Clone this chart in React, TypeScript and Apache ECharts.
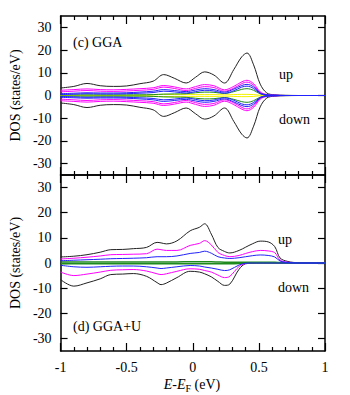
import React, { useEffect, useRef } from "react";
import * as echarts from "echarts";

// ---------- (c) GGA panel ----------
const xGGA = [-1, -0.9, -0.8, -0.7, -0.6, -0.5, -0.4, -0.3, -0.22, -0.14, -0.05, 0.02, 0.09, 0.16, 0.24, 0.31, 0.37, 0.41, 0.46, 0.51, 0.56, 0.62, 0.7, 0.8, 0.9, 1];
const ggaTotalUp = [3.3, 4.0, 5.3, 4.3, 4.0, 4.2, 5.2, 6.3, 9.2, 7.6, 5.5, 8.0, 10.4, 9.0, 5.5, 11.4, 17.0, 18.7, 13.5, 5.0, 1.1, 0.3, 0.1, 0, 0, 0];
const ggaTotalDn = [-3.3, -4.0, -5.3, -4.3, -4.0, -4.2, -5.2, -6.3, -9.2, -7.6, -5.5, -8.0, -10.4, -9.0, -5.5, -11.4, -17.0, -18.7, -13.5, -5.0, -1.1, -0.3, -0.1, 0, 0, 0];
const ggaMagAUp = [2.3, 2.6, 2.9, 2.6, 2.5, 2.7, 3.0, 3.4, 4.4, 3.8, 2.9, 3.9, 4.8, 4.3, 2.5, 4.0, 6.0, 6.7, 5.2, 1.6, 0.4, 0.1, 0, 0, 0, 0];
const ggaMagADn = [-2.3, -2.6, -2.9, -2.6, -2.5, -2.7, -3.0, -3.4, -4.4, -3.8, -2.9, -3.9, -4.8, -4.3, -2.5, -4.0, -6.0, -6.7, -5.2, -1.6, -0.4, -0.1, 0, 0, 0, 0];
const ggaMagBUp = [1.6, 1.9, 2.2, 1.9, 1.8, 2.0, 2.3, 2.7, 3.7, 3.1, 2.2, 3.1, 3.9, 3.5, 1.9, 3.2, 5.2, 5.9, 4.5, 1.3, 0.3, 0.1, 0, 0, 0, 0];
const ggaMagBDn = [-1.6, -1.9, -2.2, -1.9, -1.8, -2.0, -2.3, -2.7, -3.7, -3.1, -2.2, -3.1, -3.9, -3.5, -1.9, -3.2, -5.2, -5.9, -4.5, -1.3, -0.3, -0.1, 0, 0, 0, 0];
const ggaBlueAUp = [0.8, 1.0, 1.2, 1.1, 1.1, 1.2, 1.5, 1.9, 2.6, 2.2, 1.7, 2.4, 3.0, 2.6, 1.5, 2.8, 4.4, 4.9, 3.8, 1.1, 0.3, 0.1, 0, 0, 0, 0];
const ggaBlueADn = [-0.8, -1.0, -1.2, -1.1, -1.1, -1.2, -1.5, -1.9, -2.6, -2.2, -1.7, -2.4, -3.0, -2.6, -1.5, -2.8, -4.4, -4.9, -3.8, -1.1, -0.3, -0.1, 0, 0, 0, 0];
const ggaBlueBUp = [0.4, 0.6, 0.8, 0.7, 0.7, 0.8, 1.0, 1.3, 1.9, 1.6, 1.1, 1.7, 2.3, 2.0, 1.0, 2.1, 3.7, 4.1, 3.1, 0.9, 0.2, 0.1, 0, 0, 0, 0];
const ggaBlueBDn = [-0.4, -0.6, -0.8, -0.7, -0.7, -0.8, -1.0, -1.3, -1.9, -1.6, -1.1, -1.7, -2.3, -2.0, -1.0, -2.1, -3.7, -4.1, -3.1, -0.9, -0.2, -0.1, 0, 0, 0, 0];
const ggaGreenUp = [0.3, 0.3, 0.3, 0.3, 0.3, 0.3, 0.3, 0.4, 0.6, 0.7, 0.8, 1.2, 1.5, 1.4, 0.9, 1.7, 2.7, 3.0, 2.3, 0.7, 0.2, 0, 0, 0, 0, 0];
const ggaGreenDn = [-0.3, -0.3, -0.3, -0.3, -0.3, -0.3, -0.3, -0.4, -0.6, -0.7, -0.8, -1.2, -1.5, -1.4, -0.9, -1.7, -2.7, -3.0, -2.3, -0.7, -0.2, 0, 0, 0, 0, 0];
const ggaYellowUp = [0, 0, 0, 0, 0, 0, 0.1, 0.3, 0.5, 0.4, 0.4, 0.4, 0.4, 0.4, 0.3, 0.4, 0.5, 0.5, 0.4, 0.1, 0, 0, 0, 0, 0, 0];
const ggaYellowDn = [0, 0, 0, 0, 0, 0, -0.1, -0.3, -0.5, -0.4, -0.4, -0.4, -0.4, -0.4, -0.3, -0.4, -0.5, -0.5, -0.4, -0.1, 0, 0, 0, 0, 0, 0];

// ---------- (d) GGA+U panel ----------
const xU = [-1, -0.9, -0.8, -0.7, -0.62, -0.53, -0.45, -0.35, -0.27, -0.24, -0.2, -0.12, -0.02, 0.05, 0.09, 0.14, 0.19, 0.24, 0.28, 0.35, 0.4, 0.45, 0.51, 0.57, 0.62, 0.66, 0.72, 0.8, 0.9, 1];
const uTotalUp = [2.4, 2.7, 3.3, 4.3, 5.3, 5.4, 5.7, 6.2, 8.2, 8.0, 7.6, 8.8, 12.8, 14.2, 15.6, 11.5, 6.2, 4.6, 4.0, 5.0, 6.3, 7.6, 8.7, 8.4, 6.5, 2.0, 0.6, 0.1, 0, 0];
const uTotalDn = [-6.6, -9.2, -7.9, -6.3, -4.6, -4.4, -4.2, -5.3, -7.8, -8.6, -8.0, -5.8, -3.3, -3.6, -4.3, -5.5, -7.3, -8.9, -8.4, -2.5, -0.3, -0.1, 0, 0, 0, 0, 0, 0, 0, 0];
const uMagUp = [1.6, 1.9, 2.3, 2.8, 3.3, 3.4, 3.5, 3.7, 5.5, 5.3, 5.0, 5.0, 7.0, 7.8, 8.9, 7.2, 4.2, 3.0, 2.5, 3.0, 3.8, 4.5, 5.0, 4.8, 4.1, 1.2, 0.3, 0.1, 0, 0];
const uMagDn = [-3.6, -5.0, -4.4, -3.6, -2.9, -2.7, -2.6, -3.2, -4.3, -4.6, -4.3, -3.3, -2.3, -2.5, -3.0, -3.6, -4.8, -5.8, -5.3, -1.4, -0.2, 0, 0, 0, 0, 0, 0, 0, 0, 0];
const uBlueUp = [0.9, 1.1, 1.3, 1.5, 1.7, 1.8, 1.9, 2.1, 2.5, 2.5, 2.5, 2.8, 3.8, 4.2, 4.7, 3.9, 2.5, 2.0, 1.8, 2.1, 2.5, 2.9, 3.2, 3.0, 2.4, 0.8, 0.2, 0, 0, 0];
const uBlueDn = [-0.9, -1.5, -1.7, -1.5, -1.3, -1.2, -1.2, -1.5, -2.0, -2.2, -2.0, -1.5, -1.0, -1.2, -1.6, -2.0, -2.5, -3.0, -2.7, -0.8, -0.1, 0, 0, 0, 0, 0, 0, 0, 0, 0];
const uGreenUp = [0.4, 0.4, 0.4, 0.4, 0.4, 0.4, 0.4, 0.4, 0.4, 0.4, 0.4, 0.4, 0.5, 0.5, 0.5, 0.5, 0.4, 0.3, 0.3, 0.3, 0.3, 0.3, 0.3, 0.3, 0.3, 0.2, 0.1, 0, 0, 0];
const uGreenDn = [-0.3, -0.3, -0.3, -0.3, -0.3, -0.3, -0.3, -0.3, -0.3, -0.3, -0.3, -0.3, -0.3, -0.3, -0.3, -0.3, -0.3, -0.3, -0.3, -0.2, 0, 0, 0, 0, 0, 0, 0, 0, 0, 0];

const yTickValues = [-30, -20, -10, 0, 10, 20, 30];

const SERIF = "'Liberation Serif', 'Times New Roman', serif";
const BLACK = "#222222";
const MAGENTA = "#ff00ff";
const BLUE = "#2222ff";
const GREEN = "#1e8a1e";
const YELLOW = "#f2f200";

function pairs(xs: number[], ys: number[]) {
  return xs.map((x, i) => [x, ys[i]]);
}

function line(xs: number[], ys: number[], color: string, xi: number, yi: number, width = 1) {
  return {
    type: "line",
    xAxisIndex: xi,
    yAxisIndex: yi,
    data: pairs(xs, ys),
    showSymbol: false,
    smooth: 0.35,
    lineStyle: { color, width },
    silent: true,
  };
}

function xAxis(gridIndex: number, position: string, showLabel: boolean) {
  return {
    type: "value",
    gridIndex,
    position,
    min: -1,
    max: 1,
    interval: 0.5,
    axisLine: { show: true, onZero: false, lineStyle: { color: "#000", width: 1.5 } },
    axisTick: { show: true, inside: true, length: 8, lineStyle: { color: "#000", width: 1.2 } },
    minorTick: { show: true, splitNumber: 5, length: 4, lineStyle: { color: "#000", width: 1.2 } },
    axisLabel: { show: showLabel, color: "#000", fontSize: 14, fontFamily: SERIF, margin: 9 },
    splitLine: { show: false },
    minorSplitLine: { show: false },
  };
}

function yAxis(gridIndex: number, position: string, showLabel: boolean, name?: string) {
  return {
    type: "value",
    gridIndex,
    position,
    min: -35,
    max: 35,
    name: name || "",
    nameLocation: "middle",
    nameGap: 38,
    nameTextStyle: { color: "#000", fontSize: 14, fontFamily: SERIF },
    axisLine: { show: true, onZero: false, lineStyle: { color: "#000", width: 1.5 } },
    axisTick: { show: true, inside: true, length: 7, customValues: yTickValues, lineStyle: { color: "#000", width: 1.2 } },
    axisLabel: { show: showLabel, customValues: yTickValues, color: "#000", fontSize: 14, fontFamily: SERIF, margin: 9 },
    splitLine: { show: false },
  };
}

function txt(text: string, x: number, y: number) {
  return {
    type: "text",
    x,
    y,
    silent: true,
    style: { text, fill: "#000", fontSize: 14, fontFamily: SERIF, verticalAlign: "middle", align: "left" },
  };
}

export default function App() {
  const ref = useRef<HTMLDivElement>(null);
  useEffect(() => {
    if (!ref.current) return;
    const chart = echarts.init(ref.current, undefined, { renderer: "svg" });
    chart.setOption({
      animation: false,
      backgroundColor: "#ffffff",
      grid: [
        { left: 60, right: 25, top: 16, height: 159 },
        { left: 60, right: 25, top: 175, height: 176 },
      ],
      xAxis: [
        xAxis(0, "bottom", false),
        xAxis(0, "top", false),
        xAxis(1, "top", false),
        xAxis(1, "bottom", true),
      ],
      yAxis: [
        yAxis(0, "left", true, "DOS (states/eV)"),
        yAxis(0, "right", false),
        yAxis(1, "left", true, "DOS (states/eV)"),
        yAxis(1, "right", false),
      ],
      series: [
        line(xGGA, ggaTotalUp, BLACK, 0, 0),
        line(xGGA, ggaTotalDn, BLACK, 0, 0),
        line(xGGA, ggaMagAUp, MAGENTA, 0, 0),
        line(xGGA, ggaMagADn, MAGENTA, 0, 0),
        line(xGGA, ggaMagBUp, MAGENTA, 0, 0),
        line(xGGA, ggaMagBDn, MAGENTA, 0, 0),
        line(xGGA, ggaYellowUp, YELLOW, 0, 0),
        line(xGGA, ggaYellowDn, YELLOW, 0, 0),
        line(xGGA, ggaGreenUp, GREEN, 0, 0),
        line(xGGA, ggaGreenDn, GREEN, 0, 0),
        line(xGGA, ggaBlueAUp, BLUE, 0, 0),
        line(xGGA, ggaBlueADn, BLUE, 0, 0),
        line(xGGA, ggaBlueBUp, BLUE, 0, 0),
        line(xGGA, ggaBlueBDn, BLUE, 0, 0),

        line(xU, uTotalUp, BLACK, 3, 2),
        line(xU, uTotalDn, BLACK, 3, 2),
        line(xU, uMagUp, MAGENTA, 3, 2),
        line(xU, uMagDn, MAGENTA, 3, 2),
        line(xU, uGreenUp, GREEN, 3, 2, 1.5),
        line(xU, uGreenDn, GREEN, 3, 2, 1.5),
        line(xU, uBlueUp, BLUE, 3, 2),
        line(xU, uBlueDn, BLUE, 3, 2),
      ],
      graphic: [
        txt("(c) GGA", 73, 42),
        txt("up", 279, 74),
        txt("down", 279, 119),
        txt("up", 278, 239),
        txt("down", 278, 287),
        txt("(d) GGA+U", 73, 326),
        {
          type: "text",
          x: 192,
          y: 384,
          silent: true,
          style: {
            text: "{i|E}{n|-}{i|E}{s|F}{n| (eV)}",
            align: "center",
            verticalAlign: "middle",
            fill: "#000",
            fontFamily: SERIF,
            fontSize: 14,
            rich: {
              i: { fontStyle: "italic", fontSize: 14, fontFamily: SERIF, lineHeight: 18, fill: "#000" },
              n: { fontSize: 14, fontFamily: SERIF, lineHeight: 18, fill: "#000" },
              s: { fontSize: 10, fontFamily: SERIF, lineHeight: 10, verticalAlign: "bottom", fill: "#000" },
            },
          },
        },
      ],
    });
    return () => chart.dispose();
  }, []);
  return <div ref={ref} style={{ width: 350, height: 395, position: "absolute", left: 0, top: 0 }} />;
}
